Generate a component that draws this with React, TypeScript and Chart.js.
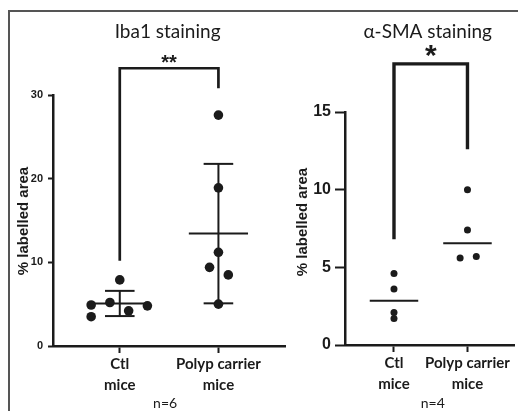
import React, { useEffect, useRef } from "react";
import { Chart, registerables } from "chart.js";

Chart.register(...registerables);

// ---- data ----
const categories = [["Ctl", "mice"], ["Polyp carrier", "mice"]];
const axisTitle = "% labelled area";

const iba1Title = "Iba1 staining";
const iba1Ctl = [7.9, 5.2, 4.9, 4.2, 4.8, 3.5];
const iba1CtlJitter = [0, -0.1, -0.29, 0.09, 0.28, -0.29];
const iba1Polyp = [27.6, 18.9, 11.2, 9.4, 8.5, 5.0];
const iba1PolypJitter = [0, 0, 0, -0.09, 0.1, 0];
const iba1Ticks = [0, 10, 20, 30];
const iba1Bracket = [10.2, 33.2, 30.8]; // left leg end, top, right leg end
const iba1Stars = "**";
const iba1Note = "n=6";

const smaTitle = "\u03b1-SMA staining";
const smaCtl = [4.6, 3.6, 2.1, 1.7];
const smaCtlJitter = [0, 0, 0, 0];
const smaPolyp = [10.0, 7.4, 5.6, 5.7];
const smaPolypJitter = [0, 0, -0.1, 0.12];
const smaTicks = [0, 5, 10, 15];
const smaBracket = [6.8, 18.1, 12.6];
const smaStars = "*";
const smaNote = "n=4";

const INK = "#1b1b1b";
const SANS = "'Liberation Sans', Arial, sans-serif";
const HUMAN = "Lato, 'Open Sans', sans-serif";

const mean = (a: number[]) => a.reduce((s, v) => s + v, 0) / a.length;
const sd = (a: number[]) => {
  const m = mean(a);
  return Math.sqrt(a.reduce((s, v) => s + (v - m) * (v - m), 0) / (a.length - 1));
};
const median = (a: number[]) => {
  const s = [...a].sort((p, q) => p - q);
  const n = s.length;
  return n % 2 ? s[(n - 1) / 2] : (s[n / 2 - 1] + s[n / 2]) / 2;
};

function seg(pts: { x: number; y: number }[], width: number) {
  return {
    type: "scatter" as const,
    data: pts,
    showLine: true,
    pointRadius: 0,
    borderColor: INK,
    borderWidth: width,
    backgroundColor: INK,
    clip: false as const,
    borderCapStyle: "butt" as const,
  };
}

const textPlugin = {
  id: "panelText",
  afterDraw(chart: any, _a: any, o: any) {
    const { ctx } = chart;
    const xs = chart.scales.x;
    const ys = chart.scales.y;
    const cx = xs.getPixelForValue(1.5);
    ctx.save();
    ctx.fillStyle = INK;
    ctx.textAlign = "center";
    ctx.textBaseline = "alphabetic";
    ctx.font = o.titleFont;
    ctx.fillText(o.title, cx + o.titleDx, o.titleY);
    ctx.font = o.starFont;
    ctx.fillText(o.stars, cx, ys.getPixelForValue(o.bracketTop) + o.starDy);
    ctx.font = o.noteFont;
    ctx.fillText(o.note, cx + o.noteDx, o.noteY);
    // y axis title
    ctx.save();
    ctx.translate(o.yTitleX, o.yTitleY);
    ctx.rotate(-Math.PI / 2);
    ctx.textBaseline = "middle";
    ctx.font = o.yTitleFont;
    ctx.fillText(axisTitle, 0, 0);
    ctx.restore();
    ctx.restore();
  },
};

type PanelCfg = {
  ctl: number[];
  ctlJ: number[];
  polyp: number[];
  polypJ: number[];
  ticks: number[];
  bracket: number[];
  median: boolean;
  title: string;
  stars: string;
  note: string;
  xMin: number;
  xMax: number;
  padTop: number;
  padRight: number;
  yWidth: number;
  xHeight: number;
  yTickFont: number;
  yTickLen: number;
  yTickPad: number;
  yTitleFont: number;
  yTitleX: number;
  yTitleY: number;
  radius: number;
  bracketW: number;
  starFont: string;
  starDy: number;
  titleDx: number;
  noteDx: number;
};

function buildConfig(p: PanelCfg): any {
  const datasets: any[] = [];
  const pts = [
    ...p.ctl.map((v, i) => ({ x: 1 + p.ctlJ[i], y: v })),
    ...p.polyp.map((v, i) => ({ x: 2 + p.polypJ[i], y: v })),
  ];
  datasets.push({
    type: "scatter",
    data: pts,
    pointRadius: p.radius,
    pointHoverRadius: p.radius,
    backgroundColor: INK,
    borderWidth: 0,
  });
  [p.ctl, p.polyp].forEach((g, gi) => {
    const x = gi + 1;
    if (p.median) {
      const md = median(g);
      datasets.push(seg([{ x: x - 0.33, y: md }, { x: x + 0.33, y: md }], 2));
    } else {
      const m = mean(g);
      const s = sd(g);
      datasets.push(seg([{ x: x - 0.3, y: m }, { x: x + 0.3, y: m }], 2));
      datasets.push(seg([{ x, y: m - s }, { x, y: m + s }], 2));
      datasets.push(seg([{ x: x - 0.15, y: m + s }, { x: x + 0.15, y: m + s }], 2));
      datasets.push(seg([{ x: x - 0.15, y: m - s }, { x: x + 0.15, y: m - s }], 2));
    }
  });
  datasets.push(
    seg(
      [
        { x: 1, y: p.bracket[0] },
        { x: 1, y: p.bracket[1] },
        { x: 2, y: p.bracket[1] },
        { x: 2, y: p.bracket[2] },
      ],
      p.bracketW
    )
  );
  return {
    type: "scatter",
    data: { datasets },
    plugins: [textPlugin],
    options: {
      responsive: false,
      animation: false,
      events: [],
      layout: { padding: { top: p.padTop, right: p.padRight, left: 0, bottom: 0 } },
      plugins: {
        legend: { display: false },
        tooltip: { enabled: false },
        panelText: {
          title: p.title,
          titleFont: `19px ${HUMAN}`,
          titleY: 38,
          titleDx: p.titleDx,
          stars: p.stars,
          starFont: p.starFont,
          bracketTop: p.bracket[1],
          starDy: p.starDy,
          note: p.note,
          noteFont: `14px ${HUMAN}`,
          noteY: 408,
          noteDx: p.noteDx,
          yTitleFont: `bold ${p.yTitleFont}px ${SANS}`,
          yTitleX: p.yTitleX,
          yTitleY: p.yTitleY,
        },
      },
      scales: {
        x: {
          type: "linear",
          min: p.xMin,
          max: p.xMax,
          afterFit: (s: any) => {
            s.height = p.xHeight;
          },
          afterBuildTicks: (s: any) => {
            s.ticks = [{ value: 1 }, { value: 2 }];
          },
          ticks: {
            autoSkip: false,
            maxRotation: 0,
            color: INK,
            padding: 1,
            font: { family: HUMAN, size: 15, weight: "bold", lineHeight: 1.4 },
            callback: (_v: any, i: number) => categories[i],
          },
          grid: {
            drawOnChartArea: false,
            drawTicks: true,
            tickLength: 7,
            tickWidth: 2,
            color: INK,
          },
          border: { display: true, color: INK, width: 2.5 },
        },
        y: {
          type: "linear",
          min: 0,
          max: p.ticks[p.ticks.length - 1],
          afterFit: (s: any) => {
            s.width = p.yWidth;
          },
          afterBuildTicks: (s: any) => {
            s.ticks = p.ticks.map((v) => ({ value: v }));
          },
          ticks: {
            color: INK,
            padding: p.yTickPad,
            font: { family: SANS, size: p.yTickFont, weight: "bold" },
          },
          grid: {
            drawOnChartArea: false,
            drawTicks: true,
            tickLength: p.yTickLen,
            tickWidth: 2,
            color: INK,
          },
          border: { display: true, color: INK, width: 2.5 },
        },
      },
    },
  };
}

const leftPanel: PanelCfg = {
  ctl: iba1Ctl,
  ctlJ: iba1CtlJitter,
  polyp: iba1Polyp,
  polypJ: iba1PolypJitter,
  ticks: iba1Ticks,
  bracket: iba1Bracket,
  median: false,
  title: iba1Title,
  stars: iba1Stars,
  note: iba1Note,
  xMin: 1 - 67 / 99,
  xMax: 2 + 67 / 99,
  padTop: 95,
  padRight: 4,
  yWidth: 53,
  xHeight: 65,
  yTickFont: 11,
  yTickLen: 5,
  yTickPad: 5,
  yTitleFont: 15,
  yTitleX: 24,
  yTitleY: 221,
  radius: 4.8,
  bracketW: 2.7,
  starFont: `bold 20px ${SANS}`,
  starDy: 1,
  titleDx: -1.5,
  noteDx: -4,
};

const rightPanel: PanelCfg = {
  ctl: smaCtl,
  ctlJ: smaCtlJitter,
  polyp: smaPolyp,
  polypJ: smaPolypJitter,
  ticks: smaTicks,
  bracket: smaBracket,
  median: true,
  title: smaTitle,
  stars: smaStars,
  note: smaNote,
  xMin: 1 - 50 / 75,
  xMax: 2 + 48 / 75,
  padTop: 112,
  padRight: 0,
  yWidth: 65,
  xHeight: 66,
  yTickFont: 16,
  yTickLen: 10,
  yTickPad: 4,
  yTitleFont: 15,
  yTitleX: 23,
  yTitleY: 222,
  radius: 3.5,
  bracketW: 3.4,
  starFont: `bold 30px ${SANS}`,
  starDy: 1,
  titleDx: -3,
  noteDx: 2,
};

function Panel({ cfg, left, width }: { cfg: PanelCfg; left: number; width: number }) {
  const ref = useRef<HTMLCanvasElement | null>(null);
  useEffect(() => {
    if (!ref.current) return;
    const chart = new Chart(ref.current, buildConfig(cfg));
    return () => chart.destroy();
  }, [cfg]);
  return (
    <canvas
      ref={ref}
      width={width}
      height={411}
      style={{ position: "absolute", left, top: 0, width, height: 411 }}
    />
  );
}

export default function App() {
  return (
    <div
      style={{
        position: "fixed",
        left: 0,
        top: 0,
        width: 518,
        height: 411,
        overflow: "hidden",
        background: "#fff",
      }}
    >
      <div
        style={{
          position: "absolute",
          left: 8,
          top: 10,
          width: 530,
          height: 420,
          borderTop: "2px solid #555",
          borderLeft: "2px solid #555",
        }}
      />
      <Panel cfg={leftPanel} left={0} width={290} />
      <Panel cfg={rightPanel} left={280} width={238} />
    </div>
  );
}
